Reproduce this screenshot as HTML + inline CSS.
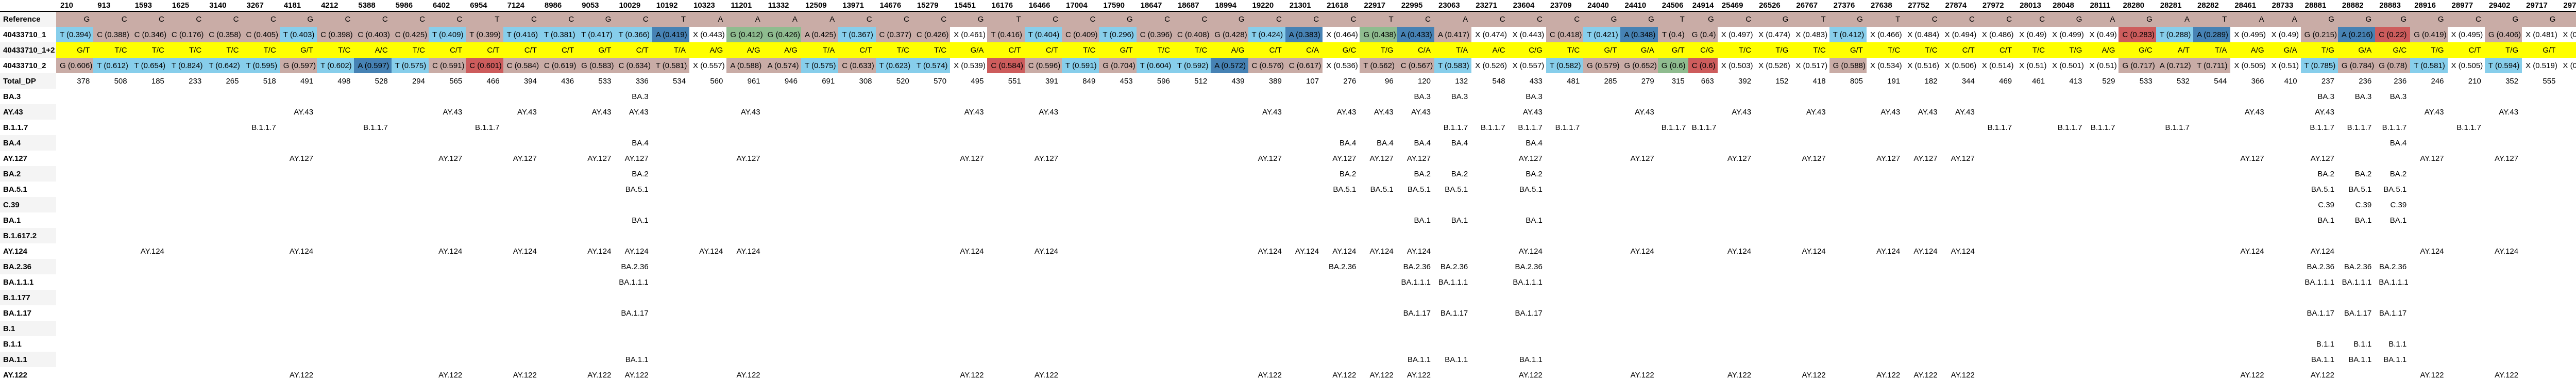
<!DOCTYPE html>
<html><head><meta charset="utf-8">
<style>
html,body{margin:0;padding:0;background:#fff;width:5037px;height:733px;overflow:hidden}
table{border-collapse:collapse;table-layout:fixed;font-family:"Liberation Sans Narrow","Liberation Sans",sans-serif;font-size:15px;color:#000}
td,th{height:30px;padding:0 7px;white-space:nowrap;overflow:hidden;text-align:right;box-sizing:border-box}
thead th{height:22px;text-align:left;font-weight:bold;padding:0 8px;border-bottom:2px solid #000;vertical-align:middle}
tbody th{text-align:left;font-weight:bold;padding-left:6px}
tr.s th{background:#f4f4f4}
</style></head><body>
<table id="t"><colgroup id="cg"></colgroup><thead><tr id="hr"></tr></thead><tbody id="tb"></tbody></table>
<script>
const positions=[210,913,1593,1625,3140,3267,4181,4212,5388,5986,6402,6954,7124,8986,9053,10029,10192,10323,11201,11332,12509,13971,14676,15279,15451,16176,16466,17004,17590,18647,18687,18994,19220,21301,21618,22917,22995,23063,23271,23604,23709,24040,24410,24506,24914,25469,26526,26767,27376,27638,27752,27874,27972,28013,28048,28111,28280,28281,28282,28461,28733,28881,28882,28883,28916,28977,29402,29717,29742];
const refBases=["G","C","C","C","C","C","G","C","C","C","C","T","C","C","G","C","T","A","A","A","A","C","C","C","G","T","C","C","G","C","C","G","C","C","C","T","C","A","C","C","C","G","G","T","G","C","G","T","G","T","C","C","C","C","G","A","G","A","T","A","A","G","G","G","G","C","G","G","G"];
const s1Bases=["T","C","C","C","C","C","T","C","C","C","T","T","T","T","T","T","A","X","G","G","A","T","C","C","X","T","T","C","T","C","C","G","T","A","X","G","A","A","X","X","C","T","A","T","G","X","X","X","T","X","X","X","X","X","X","X","C","T","A","X","X","G","A","C","G","X","G","X","X"];
const s1Freqs=[0.394,0.388,0.346,0.176,0.358,0.405,0.403,0.398,0.403,0.425,0.409,0.399,0.416,0.381,0.417,0.366,0.419,0.443,0.412,0.426,0.425,0.367,0.377,0.426,0.461,0.416,0.404,0.409,0.296,0.396,0.408,0.428,0.424,0.383,0.464,0.438,0.433,0.417,0.474,0.443,0.418,0.421,0.348,0.4,0.4,0.497,0.474,0.483,0.412,0.466,0.484,0.494,0.486,0.49,0.499,0.49,0.283,0.288,0.289,0.495,0.49,0.215,0.216,0.22,0.419,0.495,0.406,0.481,0.497];
const mixCalls=["G/T","T/C","T/C","T/C","T/C","T/C","G/T","T/C","A/C","T/C","C/T","C/T","C/T","C/T","G/T","C/T","T/A","A/G","A/G","A/G","T/A","C/T","T/C","T/C","G/A","C/T","C/T","T/C","G/T","T/C","T/C","A/G","C/T","C/A","G/C","T/G","C/A","T/A","A/C","C/G","T/C","G/T","G/A","G/T","C/G","T/C","T/G","T/C","G/T","T/C","T/C","C/T","C/T","T/C","T/G","A/G","G/C","A/T","T/A","A/G","G/A","T/G","G/A","G/C","T/G","C/T","T/G","G/T","T/G"];
const s2Bases=["G","T","T","T","T","T","G","T","A","T","C","C","C","C","G","C","T","X","A","A","T","C","T","T","X","C","C","T","G","T","T","A","C","C","X","T","C","T","X","X","T","G","G","G","C","X","X","X","G","X","X","X","X","X","X","X","G","A","T","X","X","T","G","G","T","X","T","X","X"];
const s2Freqs=[0.606,0.612,0.654,0.824,0.642,0.595,0.597,0.602,0.597,0.575,0.591,0.601,0.584,0.619,0.583,0.634,0.581,0.557,0.588,0.574,0.575,0.633,0.623,0.574,0.539,0.584,0.596,0.591,0.704,0.604,0.592,0.572,0.576,0.617,0.536,0.562,0.567,0.583,0.526,0.557,0.582,0.579,0.652,0.6,0.6,0.503,0.526,0.517,0.588,0.534,0.516,0.506,0.514,0.51,0.501,0.51,0.717,0.712,0.711,0.505,0.51,0.785,0.784,0.78,0.581,0.505,0.594,0.519,0.503];
const totalDP=[378,508,185,233,265,518,491,498,528,294,565,466,394,436,533,336,534,560,961,946,691,308,520,570,495,551,391,849,453,596,512,439,389,107,276,96,120,132,548,433,481,285,279,315,663,392,152,418,805,191,182,344,469,461,413,529,533,532,544,366,410,237,236,236,246,210,352,555,557];
const lineageNames=["BA.3","AY.43","B.1.1.7","BA.4","AY.127","BA.2","BA.5.1","C.39","BA.1","B.1.617.2","AY.124","BA.2.36","BA.1.1.1","B.1.177","BA.1.17","B.1","B.1.1","BA.1.1","AY.122"];
const ayCore=[4181,6402,7124,9053,10029,11201,15451,16466,19220,21618,22917,22995,23604,24410,25469,26767,27638,27752,27874,28461,28881,28916,29402];
const lineageHits=[
[10029,22995,23063,23604,28881,28882,28883],
ayCore,
[3267,5388,6954,23063,23271,23604,23709,24506,24914,27972,28048,28111,28281,28881,28882,28883,28977],
[10029,21618,22917,22995,23063,23604,28883],
ayCore,
[10029,21618,22995,23063,23604,28881,28882,28883],
[10029,21618,22917,22995,23063,23604,28881,28882,28883],
[28881,28882,28883],
[10029,22995,23063,23604,28881,28882,28883],
[],
[1593,4181,6402,7124,9053,10029,10323,11201,15451,16466,19220,21301,21618,22917,22995,23604,24410,25469,26767,27638,27752,27874,28461,28881,28916,29402],
[10029,21618,22995,23063,23604,28881,28882,28883],
[10029,22995,23063,23604,28881,28882,28883],
[],
[10029,22995,23063,23604,28881,28882,28883],
[],
[28881,28882,28883],
[10029,22995,23063,23604,28881,28882,28883],
ayCore];
const narrowCols={24506:59,24914:57,28013:64,28111:64,28733:64,28883:68};
const baseColor={A:"#4682b4",T:"#87ceeb",G:"#8fbc8f",C:"#cd5c5c",X:"#ffffff"};
const refColor="#c9aca6";

const cg=document.getElementById('cg');
let c0=document.createElement('col');c0.style.width='109px';cg.appendChild(c0);
positions.forEach(p=>{const c=document.createElement('col');c.style.width=(narrowCols[p]||72.3)+'px';cg.appendChild(c);});
let tw=109;positions.forEach(p=>tw+=(narrowCols[p]||72.3));
document.getElementById('t').style.width=tw+'px';

const hr=document.getElementById('hr');
const h0=document.createElement('th');


hr.appendChild(h0);
positions.forEach(p=>{const th=document.createElement('th');th.textContent=p;


hr.appendChild(th);});

const tb=document.getElementById('tb');
let ri=0;
function addRow(label,slug,cellFn){
  const tr=document.createElement('tr');if(ri%2===0)tr.className='s';ri++;
  
  
  const th=document.createElement('th');th.textContent=label;
  
  
  tr.appendChild(th);
  positions.forEach((p,i)=>{const td=document.createElement('td');const r=cellFn(i,p);
    td.textContent=r.t;if(r.bg)td.style.background=r.bg;
    
    
    tr.appendChild(td);});
  tb.appendChild(tr);
}
function sampleBg(b,i){return b===refBases[i]?refColor:baseColor[b];}
addRow('Reference','reference',i=>({t:refBases[i],bg:refColor}));
addRow('40433710_1','sample-1',i=>({t:s1Bases[i]+' ('+s1Freqs[i]+')',bg:sampleBg(s1Bases[i],i)}));
addRow('40433710_1+2','sample-mix',i=>({t:mixCalls[i],bg:'#ffff00'}));
addRow('40433710_2','sample-2',i=>({t:s2Bases[i]+' ('+s2Freqs[i]+')',bg:sampleBg(s2Bases[i],i)}));
addRow('Total_DP','total-dp',i=>({t:String(totalDP[i])}));
lineageNames.forEach((n,k)=>{
  addRow(n,'lineage-'+n.replace(/\./g,'-').toLowerCase(),(i,p)=>({t:lineageHits[k].indexOf(p)>=0?n:''}));
});
</script>
</body></html>
